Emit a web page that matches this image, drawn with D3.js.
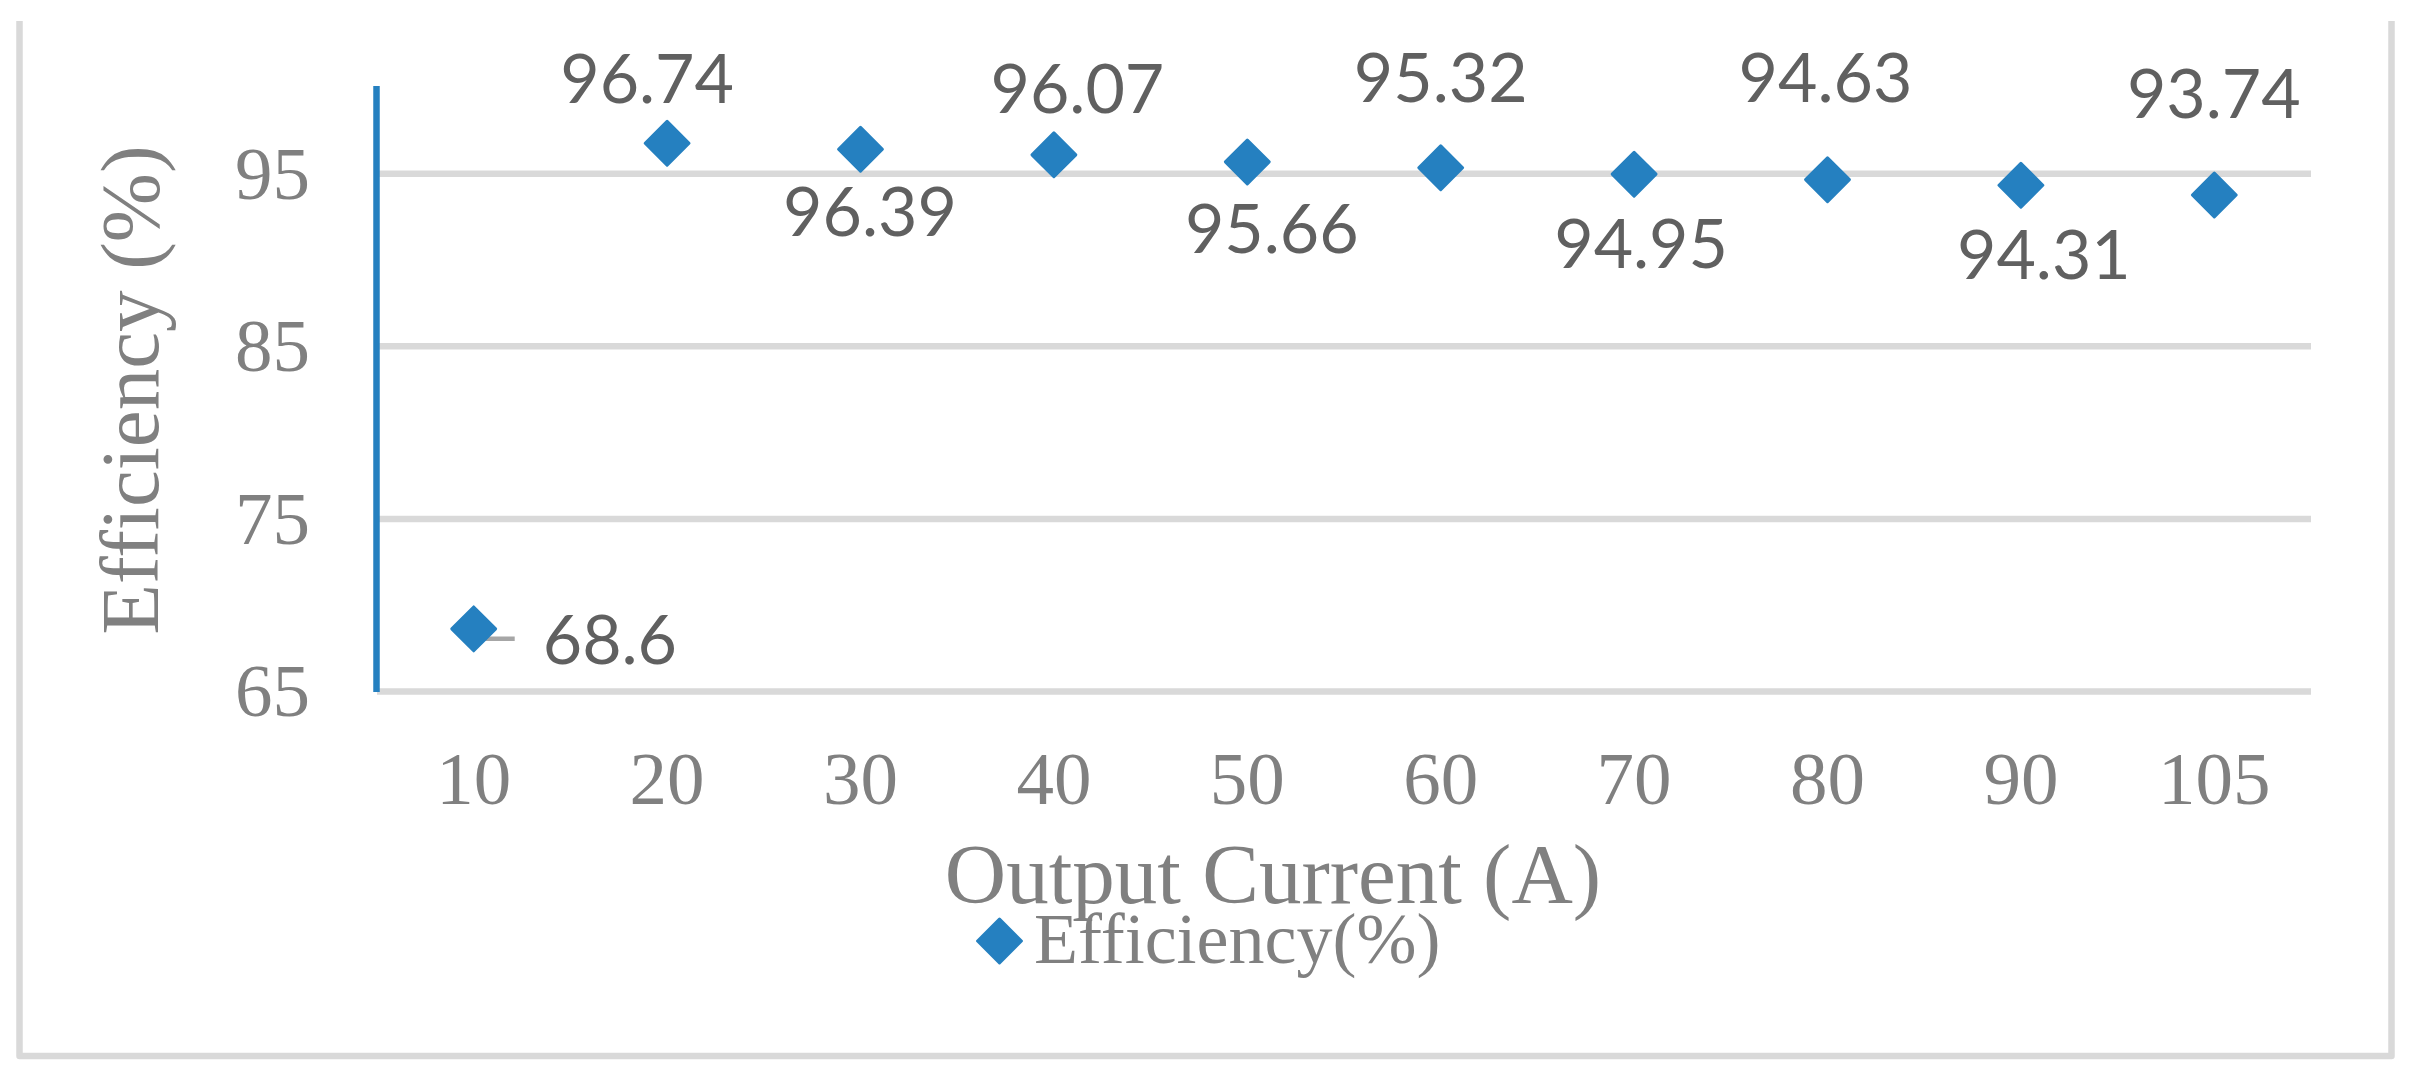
<!DOCTYPE html>
<html>
<head>
<meta charset="utf-8">
<script src="https://cdn.jsdelivr.net/npm/d3@7"></script>
<style>
  html, body { margin: 0; padding: 0; background: #ffffff; }
  svg { display: block; }
</style>
</head>
<body>
<div id="chart"></div>
<script>
// ---- data ----
const categories = ["10", "20", "30", "40", "50", "60", "70", "80", "90", "105"];
const efficiency = [68.6, 96.74, 96.39, 96.07, 95.66, 95.32, 94.95, 94.63, 94.31, 93.74];
const yTicks = [65, 75, 85, 95];
const seriesName = "Efficiency(%)";
const xTitle = "Output Current (A)";
const yTitle = "Efficiency (%)";

// ---- layout (label placement relative to each marker) ----
const labelDx = [69, -20, 9.5, 23.5, 24.5, 0, 7, -2, 23, -0.5];
const labelDy = [35.5, -40.7, 86.5, -41.5, 91.5, -65.5, 93.5, -77.5, 93.5, -77.5];

const W = 2417, H = 1077;
const plot = { left: 377, right: 2311, top: 87, bottom: 691 };
const blue = "#2580c0";
const tickGray = "#808080";
const labelGray = "#606060";
const gridGray = "#d9d9d9";
const serif = "'Liberation Serif', 'Times New Roman', serif";
const sans = "Lato, 'Open Sans', sans-serif";

const svg = d3.select("#chart").append("svg")
  .attr("width", W).attr("height", H);
svg.append("rect").attr("width", W).attr("height", H).attr("fill", "#fff");

// outer frame (left, bottom, right)
svg.append("path")
  .attr("d", `M19.5,21 L19.5,1056 L2391.5,1056 L2391.5,21`)
  .attr("fill", "none").attr("stroke", gridGray).attr("stroke-width", 6.5)
  .attr("stroke-linejoin", "round");

const x = d3.scaleBand().domain(categories).range([plot.left, plot.right]);
const cx = c => x(c) + x.bandwidth() / 2;
const y = d3.scaleLinear().domain([65, 100]).range([plot.bottom, plot.top]);

// gridlines
const grid = svg.append("g").attr("transform", `translate(${plot.left},0)`)
  .call(d3.axisLeft(y).tickValues(yTicks).tickSize(-(plot.right - plot.left)).tickFormat(""));
grid.select(".domain").remove();
grid.selectAll("line").attr("stroke", gridGray).attr("stroke-width", 6.5);

// y axis tick labels
const yAxis = svg.append("g").attr("transform", `translate(${plot.left},0)`)
  .call(d3.axisLeft(y).tickValues(yTicks).tickSize(0).tickPadding(67).tickFormat(d3.format("d")));
yAxis.select(".domain").remove();
yAxis.selectAll("text")
  .attr("font-family", serif).attr("font-size", 75).attr("fill", tickGray)
  .attr("dy", "0.33em");

// blue vertical axis line
svg.append("line")
  .attr("x1", plot.left - 0.5).attr("x2", plot.left - 0.5)
  .attr("y1", y(100) - 1).attr("y2", y(65) + 1)
  .attr("stroke", blue).attr("stroke-width", 6.5);

// x axis tick labels
const xAxis = svg.append("g").attr("transform", `translate(0,${plot.bottom})`)
  .call(d3.axisBottom(x).tickSize(0));
xAxis.select(".domain").remove();
xAxis.selectAll("text")
  .attr("font-family", serif).attr("font-size", 75).attr("fill", tickGray)
  .attr("y", 113).attr("dy", 0);

// axis titles
svg.append("text")
  .attr("transform", `translate(158,390) rotate(-90)`)
  .attr("text-anchor", "middle")
  .attr("font-family", serif).attr("font-size", 83).attr("fill", tickGray)
  .text(yTitle);

svg.append("text")
  .attr("x", 1273).attr("y", 903)
  .attr("text-anchor", "middle")
  .attr("font-family", serif).attr("font-size", 85).attr("fill", tickGray)
  .text(xTitle);

// diamond marker
const diamond = d3.symbol().type(d3.symbolSquare).size(961);
function drawMarker(sel) {
  sel.attr("d", diamond)
    .attr("fill", blue).attr("stroke", blue)
    .attr("stroke-width", 3).attr("stroke-linejoin", "round");
}

// leader line for first label
const p0x = cx(categories[0]), p0y = y(efficiency[0]);
svg.append("path")
  .attr("d", `M${p0x - 2},${p0y - 2} Q${p0x - 1},${p0y + 10} ${p0x + 6},${p0y + 10} L${p0x + 41},${p0y + 10}`)
  .attr("fill", "none").attr("stroke", "#a6a6a6").attr("stroke-width", 4.5);

const pts = categories.map((c, i) => ({ c, v: efficiency[i], i }));
svg.append("g").selectAll("path.m").data(pts).join("path")
  .attr("class", "m")
  .attr("transform", d => `translate(${cx(d.c)},${y(d.v)}) rotate(45)`)
  .call(drawMarker);

// data labels
svg.append("g").selectAll("text").data(pts).join("text")
  .attr("x", d => cx(d.c) + labelDx[d.i])
  .attr("y", d => y(d.v) + labelDy[d.i])
  .attr("text-anchor", d => d.i === 0 ? "start" : "middle")
  .attr("font-family", sans).attr("font-size", 68).attr("fill", labelGray)
  .text(d => String(d.v));

// legend
svg.append("path")
  .attr("transform", `translate(999.5,941) rotate(45)`)
  .call(drawMarker);
svg.append("text")
  .attr("x", 1034).attr("y", 963)
  .attr("font-family", serif).attr("font-size", 72).attr("fill", tickGray)
  .text(seriesName);
</script>
</body>
</html>
